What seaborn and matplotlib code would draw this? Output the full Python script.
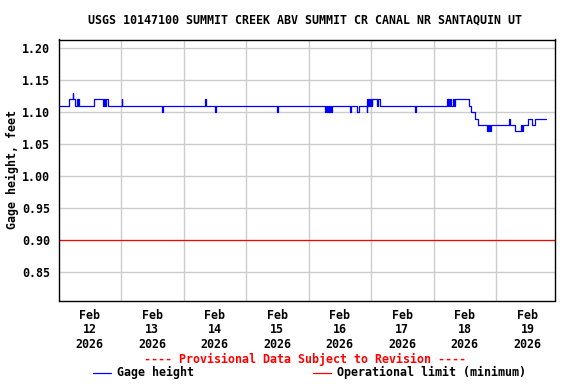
import pandas as pd
import matplotlib
matplotlib.use('Agg')
import matplotlib.pyplot as plt
from matplotlib.lines import Line2D
import seaborn as sns

# Gage height readings: change points (hours after Feb 12 2026 00:00) and value held from there
hours = [0, 3.84, 5.4, 5.75, 6.5, 7.1, 7.4, 7.6, 8.05, 13.5,
         17.1, 17.35, 17.85, 18.1, 19.1, 24.2, 24.5, 39.75, 40.05, 56.25,
         56.5, 60.1, 60.4, 83.9, 84.2, 102.3, 102.6, 103.1, 103.5, 103.9,
         104.2, 104.5, 104.9, 112.0, 112.4, 114.6, 115.2, 118.35, 118.6, 118.9,
         119.2, 119.5, 119.8, 120.2, 120.5, 122.3, 122.6, 123.5, 137.0, 137.3,
         149.1, 149.4, 149.7, 150.0, 150.4, 150.7, 151.3, 151.7, 152.3, 157.4,
         158.3, 159.7, 161.0, 164.4, 164.7, 164.9, 165.3, 165.6, 166.1, 173.0,
         173.4, 175.3, 177.5, 177.9, 178.3, 180.4, 181.9, 182.9, 187.1]
gage_height = [1.11, 1.12, 1.13, 1.12, 1.11, 1.12, 1.11, 1.12, 1.11, 1.12,
               1.11, 1.12, 1.11, 1.12, 1.11, 1.12, 1.11, 1.10, 1.11, 1.12,
               1.11, 1.10, 1.11, 1.10, 1.11, 1.10, 1.11, 1.10, 1.11, 1.10,
               1.11, 1.10, 1.11, 1.10, 1.11, 1.10, 1.11, 1.10, 1.12, 1.11,
               1.12, 1.11, 1.12, 1.11, 1.12, 1.11, 1.12, 1.11, 1.10, 1.11,
               1.12, 1.11, 1.12, 1.11, 1.12, 1.11, 1.12, 1.11, 1.12, 1.11,
               1.10, 1.09, 1.08, 1.07, 1.08, 1.07, 1.08, 1.07, 1.08, 1.09,
               1.08, 1.07, 1.08, 1.07, 1.08, 1.09, 1.08, 1.09, 1.09]
op_limit = 0.90
y_ticks = [0.85, 0.90, 0.95, 1.00, 1.05, 1.10, 1.15, 1.20]
day_labels = ['12', '13', '14', '15', '16', '17', '18', '19']

start = pd.Timestamp('2026-02-12 00:00')
df = pd.DataFrame({'time': start + pd.to_timedelta(hours, unit='h'),
                   'height': gage_height})

sns.set_style('white')
plt.rcParams['font.family'] = ['DejaVu Sans Mono']
plt.rcParams['font.weight'] = 'bold'
for key in ['text.color', 'axes.labelcolor', 'xtick.color', 'ytick.color']:
    plt.rcParams[key] = 'black'
fs = 8.4

fig = plt.figure(figsize=(5.76, 3.84), dpi=100)
ax = fig.add_axes([58.5 / 576, 1 - 300.5 / 384, 496.5 / 576, 261 / 384])

sns.lineplot(data=df, x='time', y='height', ax=ax, color='#0000ff', lw=0.9,
             drawstyle='steps-post', estimator=None, legend=False)
ax.axhline(op_limit, color='#ff0000', lw=0.9)

ax.set_ylim(0.806, 1.2137)
ax.set_xlim(start, start + pd.Timedelta(hours=190.6))

ax.set_yticks(y_ticks)
ax.set_yticklabels([f'{v:.2f}' for v in y_ticks], fontsize=fs, fontweight='bold')
noon = [start + pd.Timedelta(hours=12 + 24 * i) for i in range(len(day_labels))]
midnight = [start + pd.Timedelta(hours=24 * i) for i in range(1, 8)]
ax.set_xticks(noon)
ax.set_xticklabels([f'Feb\n{d}\n2026' for d in day_labels], fontsize=fs,
                   fontweight='bold', linespacing=1.15)
ax.set_xticks(midnight, minor=True)
ax.tick_params(axis='both', which='both', length=0)
ax.tick_params(axis='y', pad=6)
ax.tick_params(axis='x', pad=6)
ax.grid(False)
ax.grid(True, axis='x', which='minor', color='#cccccc', lw=1)
ax.grid(True, axis='y', which='major', color='#cccccc', lw=1)
ax.set_axisbelow(True)
ax.set_xlabel('')
ax.set_ylabel('')
for s in ax.spines.values():
    s.set_color('black')
    s.set_linewidth(1)

fig.text(305 / 576, 1 - 20 / 384,
         'USGS 10147100 SUMMIT CREEK ABV SUMMIT CR CANAL NR SANTAQUIN UT',
         ha='center', va='center', fontsize=fs, fontweight='bold')
fig.text(12 / 576, 1 - 170 / 384, 'Gage height, feet', rotation=90,
         ha='center', va='center', fontsize=fs, fontweight='bold')
fig.text(305.4 / 576, 1 - 359 / 384,
         '---- Provisional Data Subject to Revision ----',
         ha='center', va='center', fontsize=fs, fontweight='bold', color='#ff0000')

ly = 1 - 372.7 / 384
fig.add_artist(Line2D([93.3 / 576, 110.7 / 576], [ly, ly], color='#0000ff', lw=0.9))
fig.text(116.7 / 576, ly, 'Gage height', ha='left', va='center',
         fontsize=fs, fontweight='bold')
fig.add_artist(Line2D([313.3 / 576, 330.7 / 576], [ly, ly], color='#ff0000', lw=0.9))
fig.text(336.7 / 576, ly, 'Operational limit (minimum)', ha='left', va='center',
         fontsize=fs, fontweight='bold')

fig.savefig('out.png', dpi=100)
